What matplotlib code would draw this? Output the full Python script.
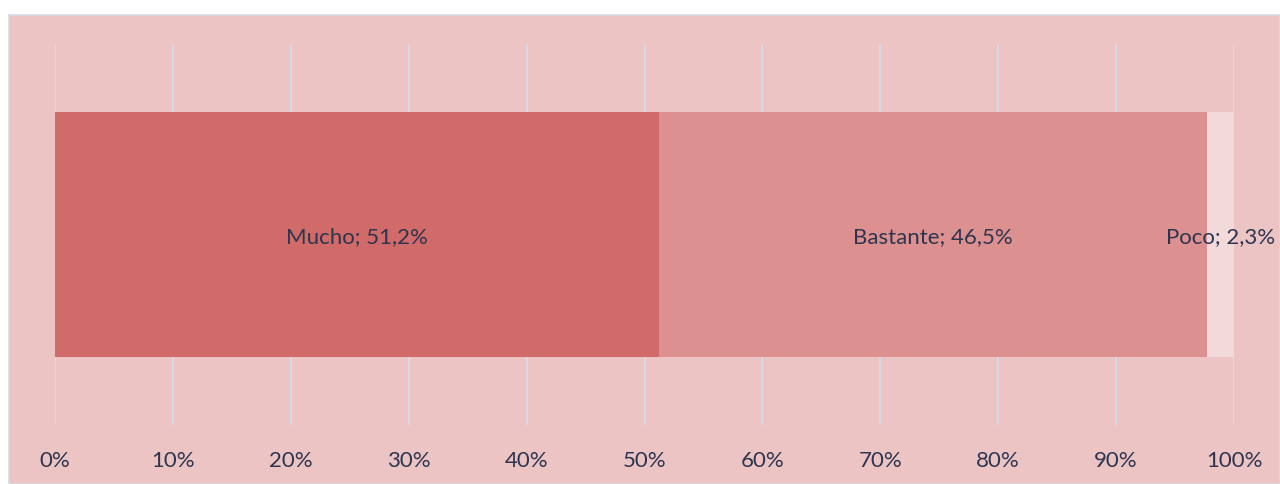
import matplotlib.pyplot as plt
from matplotlib.patches import Rectangle

categories = ['Mucho', 'Bastante', 'Poco']
values = [51.2, 46.5, 2.3]
labels = ['51,2%', '46,5%', '2,3%']
colors = ['#d06b69', '#dc908f', '#f2dadb']
ticks = list(range(0, 101, 10))

plt.rcParams['font.family'] = ['Lato', 'DejaVu Sans']
txt = '#2e3550'

fig = plt.figure(figsize=(12.8, 4.84), dpi=100)
fig.patch.set_facecolor('white')
# pink panel with thin border
fig.patches.append(Rectangle((8.5 / 1280, 0), 1 - 8.5 / 1280, 1 - 14.5 / 484,
                             transform=fig.transFigure, facecolor='#ecc4c4',
                             edgecolor='#d6d9e6', linewidth=1.2, zorder=-5))

ax = fig.add_axes([55 / 1280, 1 - 425 / 484, (1234 - 55) / 1280, 381 / 484])
ax.set_facecolor('none')
ax.set_zorder(2)

left = 0
for cat, v, lab, c in zip(categories, values, labels, colors):
    ax.barh(0, v, left=left, height=0.643, color=c, zorder=2)
    ax.text(left + v / 2, -0.008, f'{cat}; {lab}', ha='center', va='center',
            fontsize=16, color=txt, zorder=3)
    left += v

ax.set_xlim(0, 100)
ax.set_ylim(-0.5, 0.5)
ax.set_xticks(ticks)
ax.set_xticklabels([f'{t}%' for t in ticks], fontsize=16, color=txt)
ax.set_yticks([])
ax.tick_params(axis='x', length=0, pad=19)
ax.grid(axis='x', color='#d6d9e6', linewidth=1.5, zorder=1)
ax.set_axisbelow(True)
for s in ax.spines.values():
    s.set_visible(False)

fig.savefig('out.png', dpi=100)
